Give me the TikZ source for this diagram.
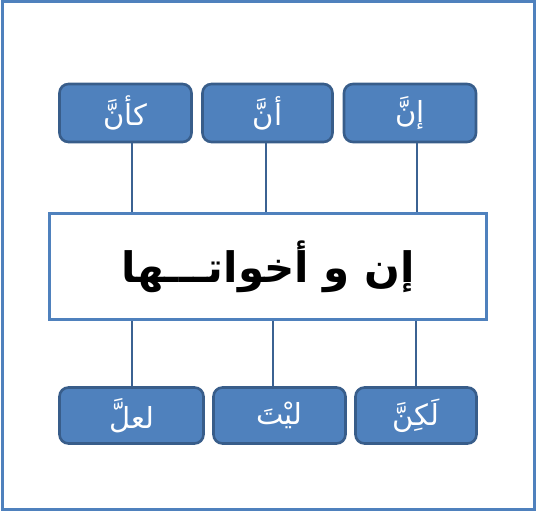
\documentclass[tikz,border=0pt]{standalone}
\usepackage{fontspec}
\newfontfamily\arabicfont[Script=Arabic]{DejaVu Sans}
\TeXXeTstate=1
\usetikzlibrary{positioning}
\definecolor{boxblue}{HTML}{4F81BD}
\definecolor{edgeblue}{HTML}{385D8A}

\begin{document}
\begin{tikzpicture}[x=1pt,y=-1pt,thick,
  word node/.style={rectangle,rounded corners=9pt,fill=boxblue,draw=edgeblue,line width=2.6pt,minimum height=58pt,text=white,font=\arabicfont\fontsize{29}{32}\selectfont},
  main node/.style={rectangle,draw=boxblue,line width=2.8pt,fill=white,minimum width=437pt,minimum height=106pt,font=\arabicfont\bfseries\fontsize{42}{48}\selectfont},
  link/.style={draw=edgeblue!85!boxblue,line width=1.2pt}]
  \useasboundingbox (0,0) rectangle (536,511);
  \draw[boxblue,line width=3pt] (2,2) rectangle (534,509);

  \node[main node] (0) at (268,266.5) {\beginR إن و أخواتـــها\endR};

  \node[word node,minimum width=132pt] (1) at (410,113)   {\beginR إنَّ\endR};
  \node[word node,minimum width=130pt] (2) at (267.5,113) {\beginR أنَّ\endR};
  \node[word node,minimum width=132pt] (3) at (125.5,113) {\beginR كأنَّ\endR};

  \node[word node,minimum width=121pt,minimum height=56pt] (4) at (416,415.5)   {\beginR لَكِنَّ\endR};
  \node[word node,minimum width=132pt,minimum height=56pt] (5) at (279.5,415.5) {\beginR ليْتَ\endR};
  \node[word node,minimum width=144pt,minimum height=56pt] (6) at (131.5,415.5) {\beginR لعلَّ\endR};

  % connectors
  \coordinate (c1) at ([xshift=7pt]1.south);
  \coordinate (c2) at ([xshift=-1.5pt]2.south);
  \coordinate (c3) at ([xshift=6.5pt]3.south);
  \coordinate (c4) at (4.north);
  \coordinate (c5) at ([xshift=-6.5pt]5.north);
  \coordinate (c6) at ([xshift=0.5pt]6.north);
  \foreach \c in {c1,c2,c3}
    \path[link] (\c) -- (\c |- 0.north);
  \foreach \c in {c4,c5,c6}
    \path[link] (\c) -- (\c |- 0.south);
\end{tikzpicture}
\end{document}
